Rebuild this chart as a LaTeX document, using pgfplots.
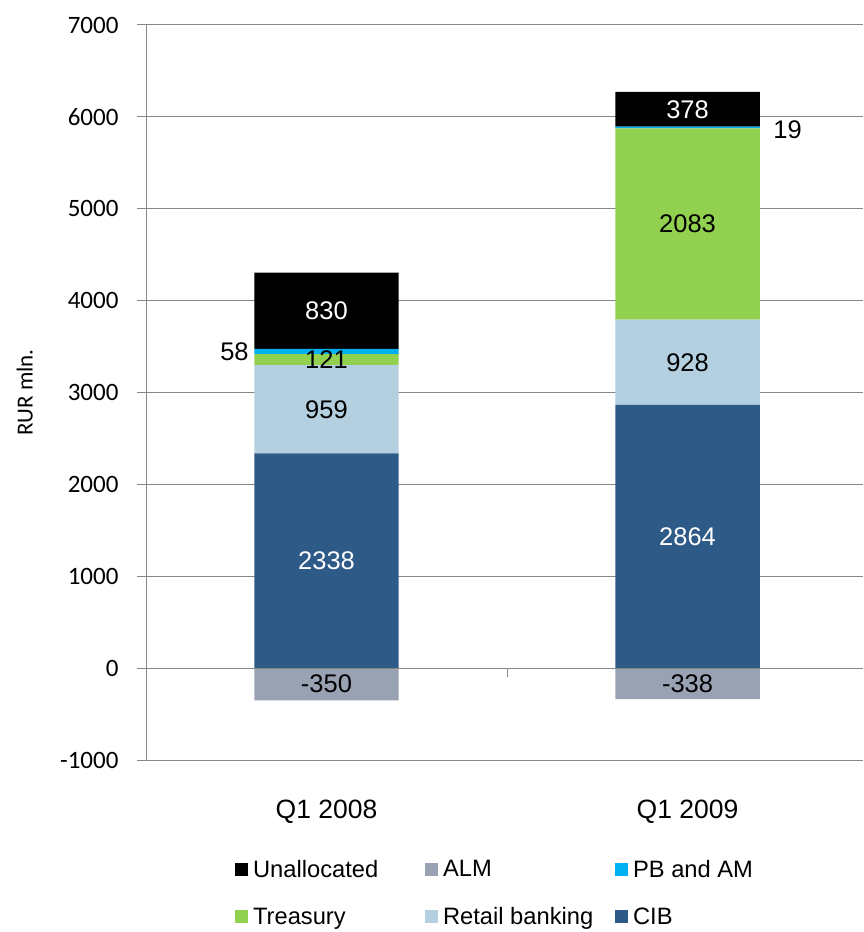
\documentclass[border=0pt]{standalone}
\usepackage{pgfplots}
\pgfplotsset{compat=1.18}
\usepackage{fontspec}
\setmainfont{Liberation Sans}
\newfontfamily\carlito{Carlito}
\definecolor{cib}{HTML}{2E5A88}
\definecolor{retail}{HTML}{B3CFE0}
\definecolor{treasury}{HTML}{92D050}
\definecolor{pbam}{HTML}{00B0F0}
\definecolor{alm}{HTML}{98A2B3}
\definecolor{gridgray}{HTML}{868686}
\newcommand{\fs}[1]{\fontsize{#1}{#1}\selectfont}
\pgfplotsset{
  common/.style={
    at={(146pt,172pt)}, anchor=south west,
    scale only axis, width=717pt, height=735pt,
    xmin=-0.5, xmax=1.486, ymin=-1000, ymax=7000,
  },
  lbl/.style={draw=none, mark=none, nodes near coords, point meta=explicit symbolic,
    nodes near coords style={anchor=center, font=\fs{25.5}, text=#1}},
}
\begin{document}
\begin{tikzpicture}
\begin{axis}[common,
  ybar stacked, bar width=0.4,
  axis lines*=left,
  ytick={-1000,0,...,7000},
  xtick={0,1}, xticklabels={Q1 2008,Q1 2009},
  /pgf/number format/assume math mode=true,
  /pgf/number format/1000 sep={},
  ymajorgrids, grid style={draw=gridgray, line width=1pt},
  axis line style={draw=gridgray, line width=1pt},
  ytick style={draw=gridgray, line width=1pt},
  xtick style={draw=none},
  major tick length=9pt, tick align=outside,
  yticklabel style={font=\carlito\fs{25}, xshift=-15pt},
  xticklabel style={font=\fs{26.5}, anchor=base, yshift=-49.5pt},
  ylabel={RUR mln.},
  ylabel style={at={(axis description cs:-0.169,0.5)}, anchor=center, font=\carlito\fs{23}},
  legend columns=3,
  legend style={at={(axis description cs:0.124,-0.136)}, anchor=north west,
    draw=none, inner sep=0pt, font=\fs{23.7}, row sep=28.5pt,
    nodes={inner sep=0pt},
    /tikz/every odd column/.append style={column sep=5pt}},
  legend image code/.code={\fill[#1, draw=none] (0pt,-6.5pt) rectangle (13pt,6.5pt);},
]
\addplot[fill=cib, draw=none, forget plot] coordinates {(0,2338) (1,2864)};
\addplot[fill=retail, draw=none, forget plot] coordinates {(0,959) (1,928)};
\addplot[fill=treasury, draw=none, forget plot] coordinates {(0,121) (1,2083)};
\addplot[fill=pbam, draw=none, forget plot] coordinates {(0,58) (1,19)};
\addplot[fill=black, draw=none, forget plot] coordinates {(0,830) (1,378)};
\addlegendimage{fill=black}
\addlegendentry{\makebox[172pt][l]{Unallocated}}
\addlegendimage{fill=alm}
\addlegendentry{\makebox[172pt][l]{ALM}}
\addlegendimage{fill=pbam}
\addlegendentry{\makebox[172pt][l]{PB and AM}}
\addlegendimage{fill=treasury}
\addlegendentry{\makebox[172pt][l]{Treasury}}
\addlegendimage{fill=retail}
\addlegendentry{\makebox[172pt][l]{Retail banking}}
\addlegendimage{fill=cib}
\addlegendentry{\makebox[172pt][l]{CIB}}
\end{axis}
\begin{axis}[common, hide axis]
\addplot[ybar, bar width=0.4, bar shift=0pt, fill=alm, draw=none] coordinates {(0,-350) (1,-338)};
\draw[gridgray, line width=1pt] (axis cs:-0.5,0) -- (axis cs:1.486,0);
\draw[gridgray, line width=1pt] (axis cs:0.5,0) -- ([yshift=-9pt]axis cs:0.5,0);
\addplot[lbl=white] coordinates {(0,1169) [2338] (1,1432) [2864] (0,3891) [830] (1,6083) [378]};
\addplot[lbl=black] coordinates {(0,2817) [959] (1,3328) [928] (0,3357) [121] (1,4833) [2083] (0,-175) [-350] (1,-169) [-338] (-0.255,3440) [58] (1.277,5855) [19]};
\end{axis}
\pgfresetboundingbox
\path[use as bounding box] (0,0) rectangle (863pt,932pt);
\end{tikzpicture}
\end{document}
